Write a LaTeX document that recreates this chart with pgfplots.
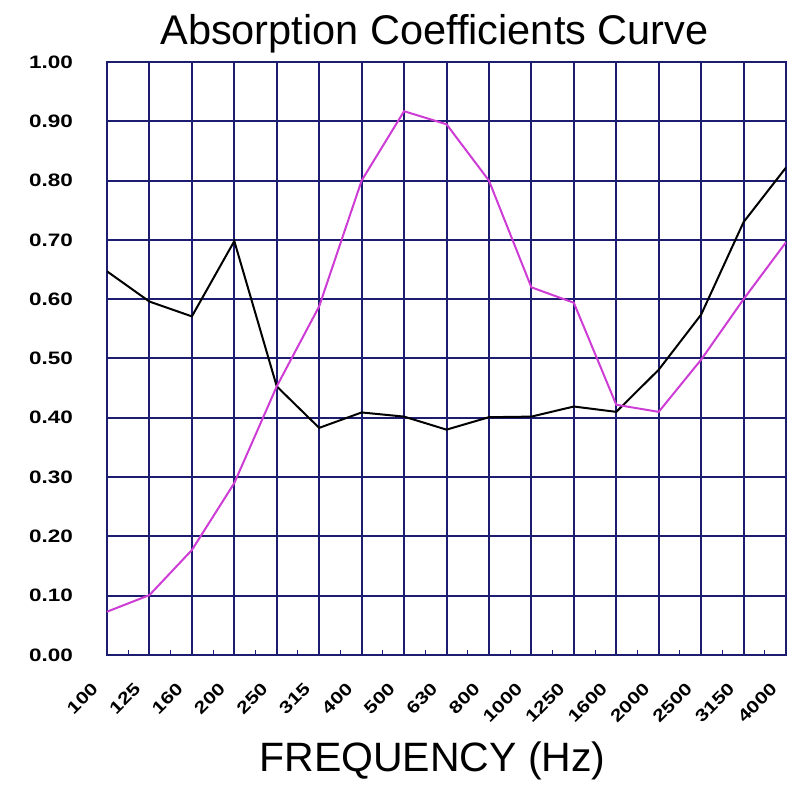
\documentclass[border=0pt]{standalone}
\usepackage{fontspec}
\setmainfont{Liberation Sans}
\newfontfamily\tickfont[FakeStretch=1.25]{Liberation Sans}
\usepackage{pgfplots}
\pgfplotsset{compat=1.18}
\definecolor{gridnavy}{RGB}{28,28,112}
\definecolor{magline}{RGB}{206,60,214}
\begin{document}
\begin{tikzpicture}
\begin{axis}[
  at={(0,0)}, anchor=south west,
  scale only axis,
  width=679pt, height=593pt,
  xmin=0, xmax=16, ymin=0, ymax=1,
  xtick={0,...,16},
  xticklabels={100,125,160,200,250,315,400,500,630,800,1000,1250,1600,2000,2500,3150,4000},
  ytick={0,0.1,...,1.0},
  yticklabel={\pgfmathprintnumber[fixed,fixed zerofill,precision=2]{\tick}},
  /pgf/number format/assume math mode=true,
  grid=major,
  major grid style={gridnavy, line width=2pt},
  axis line style={gridnavy, line width=1.6pt},
  major tick length=0pt,
  minor x tick num=1,
  minor tick length=5pt,
  minor tick style={gridnavy, line width=1pt},
  xtick pos=left, ytick pos=left,
  tick align=inside,
  yticklabel style={font=\fontsize{18}{20}\selectfont\tickfont\bfseries, anchor=east, inner sep=0pt, xshift=-34pt},
  xticklabel style={font=\fontsize{17}{18}\selectfont\tickfont\bfseries, xshift=-12pt, yshift=-31pt, rotate=45, anchor=east, inner sep=0pt},
  title={Absorption Coefficients Curve},
  title style={font=\fontsize{41.5}{43}\selectfont, anchor=base, at={(0.5,1)}, xshift=-12pt, yshift=11pt},
  xlabel={FREQUENCY (Hz)},
  xlabel style={font=\fontsize{41}{43}\selectfont, anchor=base, at={(0.5,0)}, xshift=-14pt, yshift=-116pt},
]
\addplot[black, line width=2pt] coordinates {
(0,0.647) (1,0.596) (2,0.571) (3,0.698) (4,0.453) (5,0.383) (6,0.409) (7,0.402) (8,0.380) (9,0.401) (10,0.402) (11,0.419) (12,0.410) (13,0.481) (14,0.574) (15,0.730) (16,0.822)
};
\addplot[magline, line width=2pt] coordinates {
(0,0.073) (1,0.101) (2,0.177) (3,0.290) (4,0.453) (5,0.588) (6,0.800) (7,0.917) (8,0.895) (9,0.800) (10,0.620) (11,0.594) (12,0.422) (13,0.410) (14,0.498) (15,0.600) (16,0.696)
};
\end{axis}
\pgfresetboundingbox
\path (-107pt,-134pt) rectangle (688pt,655pt);
\end{tikzpicture}
\end{document}
